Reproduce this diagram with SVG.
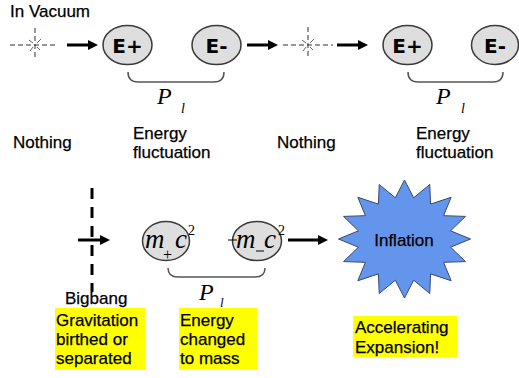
<svg xmlns="http://www.w3.org/2000/svg" width="519" height="378" viewBox="0 0 519 378">
<style>
.lbl{font-family:"Liberation Sans",Arial,sans-serif;font-size:17px;fill:#000;stroke:#000;stroke-width:0.25}
.eb{font-family:"DejaVu Sans",sans-serif;font-weight:bold;font-size:20px;fill:#000;text-anchor:middle}
.ell{fill:#DEDEDE;stroke:#3a3a3a;stroke-width:1.5}
.math{font-family:"Liberation Serif","Times New Roman",serif;font-style:italic;fill:#000}
.up{font-family:"Liberation Serif","Times New Roman",serif;font-style:normal;font-size:14px;fill:#000}
.brk{fill:none;stroke:#555;stroke-width:1.5}
.arr{stroke:#000;stroke-width:3;marker-end:url(#ah)}
.dash{stroke:#333;stroke-width:1;stroke-dasharray:5 3}
.spark{stroke:#666;stroke-width:1}
.hl{fill:#FFFF00}
</style>
<defs>
<marker id="ah" markerUnits="userSpaceOnUse" viewBox="0 0 10 10" refX="5" refY="5" markerWidth="10" markerHeight="10" orient="auto">
<path d="M0,0 L10,5 L0,10 z" fill="#000"/>
</marker>
</defs>
<rect width="519" height="378" fill="#fff"/>

<text class="lbl" x="10" y="17">In Vacuum</text>

<g id="nothing1">
<line class="dash" x1="10" y1="45" x2="58" y2="45"/>
<line class="dash" x1="35" y1="28" x2="35" y2="59"/>
<path class="spark" d="M37,43 L41,39 M33,43 L29,40 M33,47 L30,51 M37,47 L40,50"/>
<text class="lbl" x="13" y="148">Nothing</text>
</g>

<g id="eplus1">
<ellipse class="ell" cx="127.5" cy="45" rx="24.5" ry="19.5"/>
<text class="eb" x="127.5" y="52.5">E+</text>
</g>
<g id="eminus1">
<ellipse class="ell" cx="216.5" cy="45" rx="24.5" ry="19.5"/>
<text class="eb" x="216.5" y="52.5">E-</text>
</g>
<g id="pl1">
<path class="brk" d="M128,72 Q128,82 138,82 L214,82 Q224,82 224,72"/>
<text class="math" x="157" y="104" font-size="24">P</text>
<text class="math" x="181" y="113" font-size="14">l</text>
<text class="lbl" x="133" y="139">Energy</text>
<text class="lbl" x="133" y="158">fluctuation</text>
</g>

<g id="nothing2">
<line class="dash" x1="283" y1="45" x2="333" y2="45"/>
<line class="dash" x1="308" y1="27" x2="308" y2="59"/>
<path class="spark" d="M310,43 L314,39 M306,43 L302,40 M306,47 L303,51 M310,47 L313,50"/>
<text class="lbl" x="277" y="148">Nothing</text>
</g>

<g id="eplus2">
<ellipse class="ell" cx="407.5" cy="45" rx="24.5" ry="19.5"/>
<text class="eb" x="407.5" y="52.5">E+</text>
</g>
<g id="eminus2">
<ellipse class="ell" cx="495" cy="45" rx="23.5" ry="19.5"/>
<text class="eb" x="495" y="52.5">E-</text>
</g>
<g id="pl2">
<path class="brk" d="M408,72 Q408,82 418,82 L493,82 Q503,82 503,72"/>
<text class="math" x="436" y="104" font-size="24">P</text>
<text class="math" x="461" y="113" font-size="14">l</text>
<text class="lbl" x="416" y="139">Energy</text>
<text class="lbl" x="416" y="158">fluctuation</text>
</g>

<g id="bigbang">
<line x1="92" y1="188" x2="92" y2="292" stroke="#000" stroke-width="3" stroke-dasharray="11 8"/>
<text class="lbl" x="65" y="304">Bigbang</text>
<rect class="hl" x="55" y="308" width="90" height="62"/>
<text class="lbl" x="56" y="326">Gravitation</text>
<text class="lbl" x="56" y="345">birthed or</text>
<text class="lbl" x="56" y="364">separated</text>
</g>

<g id="mplus">
<ellipse class="ell" cx="166" cy="241" rx="23.5" ry="19.5"/>
<text class="math" x="145" y="248" font-size="27">m</text>
<text class="up" x="163" y="260" style="font-size:16px">+</text>
<text class="math" x="175" y="248" font-size="27">c</text>
<text class="up" x="188" y="235">2</text>
</g>
<g id="mminus">
<ellipse class="ell" cx="257" cy="241" rx="24.5" ry="19.5"/>
<line x1="228" y1="240" x2="237" y2="240" stroke="#000" stroke-width="1"/>
<text class="math" x="236" y="248" font-size="27">m</text>
<line x1="256" y1="251" x2="264" y2="251" stroke="#000" stroke-width="1"/>
<text class="math" x="264" y="248" font-size="27">c</text>
<text class="up" x="278" y="235">2</text>
</g>
<g id="pl3">
<path class="brk" d="M168,268 Q168,277 178,277 L255,277 Q265,277 265,268"/>
<text class="math" x="199" y="300" font-size="24">P</text>
<text class="math" x="220" y="307" font-size="13">l</text>
<rect class="hl" x="179" y="308" width="78" height="62"/>
<text class="lbl" x="180" y="326">Energy</text>
<text class="lbl" x="180" y="345">changed</text>
<text class="lbl" x="180" y="364">to mass</text>
</g>

<g id="inflation">
<polygon fill="#6495EC" stroke="#3a4a6a" stroke-width="1" points="404.5,180 413.67,197.81 429.76,184.49 430.61,204.08 451.17,197.28 443.58,215.67 465.48,216.42 450.6,230.81 470.5,239 450.6,247.19 465.48,261.58 443.58,262.33 451.17,280.72 430.61,273.92 429.76,293.51 413.67,280.19 404.5,298 395.33,280.19 379.24,293.51 378.39,273.92 357.83,280.72 365.42,262.33 343.52,261.58 358.4,247.19 338.5,239 358.4,230.81 343.52,216.42 365.42,215.67 357.83,197.28 378.39,204.08 379.24,184.49 395.33,197.81"/>
<text class="lbl" x="404" y="246" text-anchor="middle" fill="#111133" stroke="#111133">Inflation</text>
<rect class="hl" x="353" y="316" width="104" height="41"/>
<text class="lbl" x="355" y="333">Accelerating</text>
<text class="lbl" x="355" y="353">Expansion!</text>
</g>

<g id="connectors">
<line class="arr" x1="67" y1="45" x2="93" y2="45"/>
<line class="arr" x1="247" y1="45" x2="273" y2="45"/>
<line class="arr" x1="337" y1="45" x2="363" y2="45"/>
<line class="arr" x1="78" y1="240" x2="105" y2="240"/>
<line class="arr" x1="288" y1="240" x2="323" y2="240"/>
</g>
</svg>
